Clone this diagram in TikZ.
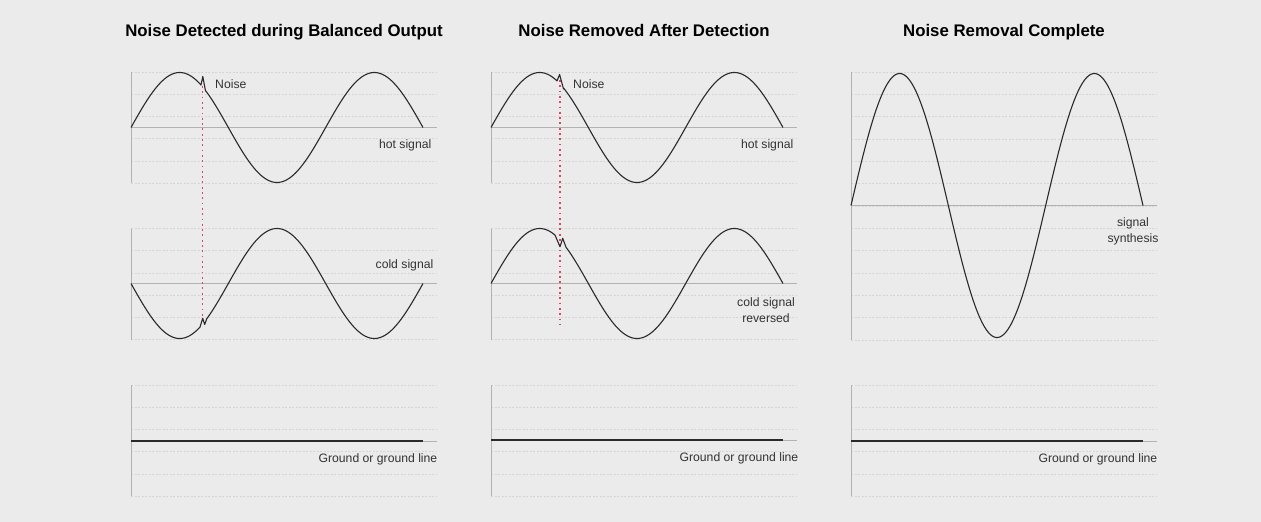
\documentclass[tikz,border=0pt]{standalone}
\usepackage{fontspec}
\setmainfont{Liberation Sans}
\usetikzlibrary{positioning}

\definecolor{bgc}{HTML}{EBEBEB}
\definecolor{gridc}{HTML}{D5D5D5}
\definecolor{axisc}{HTML}{B2B2B2}
\definecolor{wavec}{HTML}{2A2A2A}
\definecolor{noisec}{HTML}{D8485E}

\begin{document}
\begin{tikzpicture}[x=1pt, y=-1pt,
  headtext/.style={font=\bfseries\fontsize{16.8}{19}\selectfont, inner sep=0pt, anchor=base},
  sigtext/.style={font=\fontsize{12.2}{16}\selectfont, text=black!80, inner sep=0pt, align=center},
  gridline/.style={gridc, dash pattern=on 2pt off 1.5pt, line width=0.6pt},
  axisline/.style={axisc, line width=0.8pt},
  wave/.style={wavec, line width=1.1pt, line join=round},
  noiseline/.style={noisec, dash pattern=on 1.8pt off 3.5pt, line width=1.1pt}]
\fill[bgc] (0,0) rectangle (1261,522);
\useasboundingbox (0,0) rectangle (1261,522);

% titles
\node[headtext, name=head_1] at (284,36) {Noise Detected during Balanced Output};
\node[headtext, name=head_2] at (644,36) {Noise Removed After Detection};
\node[headtext, name=head_3] at (1004,36) {Noise Removal Complete};

% grid lines
\foreach \px in {131,491} {
  \foreach \k in {0,...,5} {
    \draw[gridline] (\px,72+22.2*\k) -- +(306,0);
    \draw[gridline] (\px,228.5+22.2*\k) -- +(306,0);
  }
}
\foreach \px in {131,491,851} {
  \foreach \k in {0,...,5} {
    \draw[gridline] (\px,385+22.2*\k) -- +(306,0);
  }
}
\foreach \k in {0,...,12} {
  \draw[gridline] (851,72+22.33*\k) -- +(306,0);
}

% axes
\draw[axisline] (131,72) -- (131,183);
\draw[axisline] (131,127.5) -- (437,127.5);
\draw[axisline] (131,228.5) -- (131,339.5);
\draw[axisline] (131,283.5) -- (437,283.5);
\draw[axisline] (131,385) -- (131,496);
\draw[axisline] (131,441) -- (437,441);
\draw[axisline] (491,72) -- (491,183);
\draw[axisline] (491,127.5) -- (797,127.5);
\draw[axisline] (491,228.5) -- (491,339.5);
\draw[axisline] (491,283.5) -- (797,283.5);
\draw[axisline] (491,385) -- (491,496);
\draw[axisline] (491,440) -- (797,440);
\draw[axisline] (851,72) -- (851,340);
\draw[axisline] (851,205.5) -- (1157,205.5);
\draw[axisline] (851,385) -- (851,496);
\draw[axisline] (851,441) -- (1157,441);

% noise markers
\coordinate (noise_1_top) at (202.7,86);
\coordinate (noise_1_bot) at (202.7,320);
\coordinate (noise_2_top) at (560,80);
\coordinate (noise_2_bot) at (560,325);
\draw[noiseline] (noise_1_top) -- (noise_1_bot);
\draw[noiseline] (noise_2_top) -- (noise_2_bot);

% hot signal, panel 1
\draw[wave] plot[domain=0:70, samples=60] ({131+\x},{127.5-55*sin(\x*1.84932)})
  -- (202.8,76.5) -- (205.5,91)
  -- plot[domain=75:292, samples=160] ({131+\x},{127.5-55*sin(\x*1.84932)});
% cold signal, panel 1
\draw[wave] plot[domain=0:69, samples=60] ({131+\x},{283.5+55*sin(\x*1.84932)})
  -- (202.7,318.3) -- (204.7,324.5)
  -- plot[domain=75.7:292, samples=160] ({131+\x},{283.5+55*sin(\x*1.84932)});
% ground, panel 1
\draw[wave] (131,441) -- (423,441);

% hot signal, panel 2
\draw[wave] plot[domain=0:66, samples=60] ({491+\x},{127.5-55*sin(\x*1.84932)})
  -- (559.6,74.5) -- (563.5,89)
  -- plot[domain=72.5:292, samples=160] ({491+\x},{127.5-55*sin(\x*1.84932)});
% reversed cold signal, panel 2
\draw[wave] plot[domain=0:64, samples=60] ({491+\x},{283.5-55*sin(\x*1.84932)})
  -- (560,246.7) -- (562.7,238.3)
  -- plot[domain=75:292, samples=160] ({491+\x},{283.5-55*sin(\x*1.84932)});
% ground, panel 2
\draw[wave] (491,440) -- (783,440);

% synthesis, panel 3
\draw[wave] plot[domain=0:292, samples=220] ({851+\x},{205.5-132*sin(\x*1.84932)});
% ground, panel 3
\draw[wave] (851,441) -- (1143,441);

% labels
\node[sigtext, anchor=west, name=noise_1] at (215,84) {Noise};
\node[sigtext, anchor=west, name=noise_2] at (573,84) {Noise};
\node[sigtext, anchor=east, name=hot_1] at (431.5,145) {hot signal};
\node[sigtext, anchor=east, name=hot_2] at (793.5,145) {hot signal};
\node[sigtext, anchor=east, name=cold_1] at (433.5,265) {cold signal};
\node[sigtext, name=cold_2] at (766,310) {cold signal\\reversed};
\node[sigtext, name=synth_3] at (1133,231) {signal\\synthesis};
\node[sigtext, anchor=east, name=ground_1] at (437.5,459) {Ground or ground line};
\node[sigtext, anchor=east, name=ground_2] at (798.5,458) {Ground or ground line};
\node[sigtext, anchor=east, name=ground_3] at (1157.5,459) {Ground or ground line};
\end{tikzpicture}
\end{document}
